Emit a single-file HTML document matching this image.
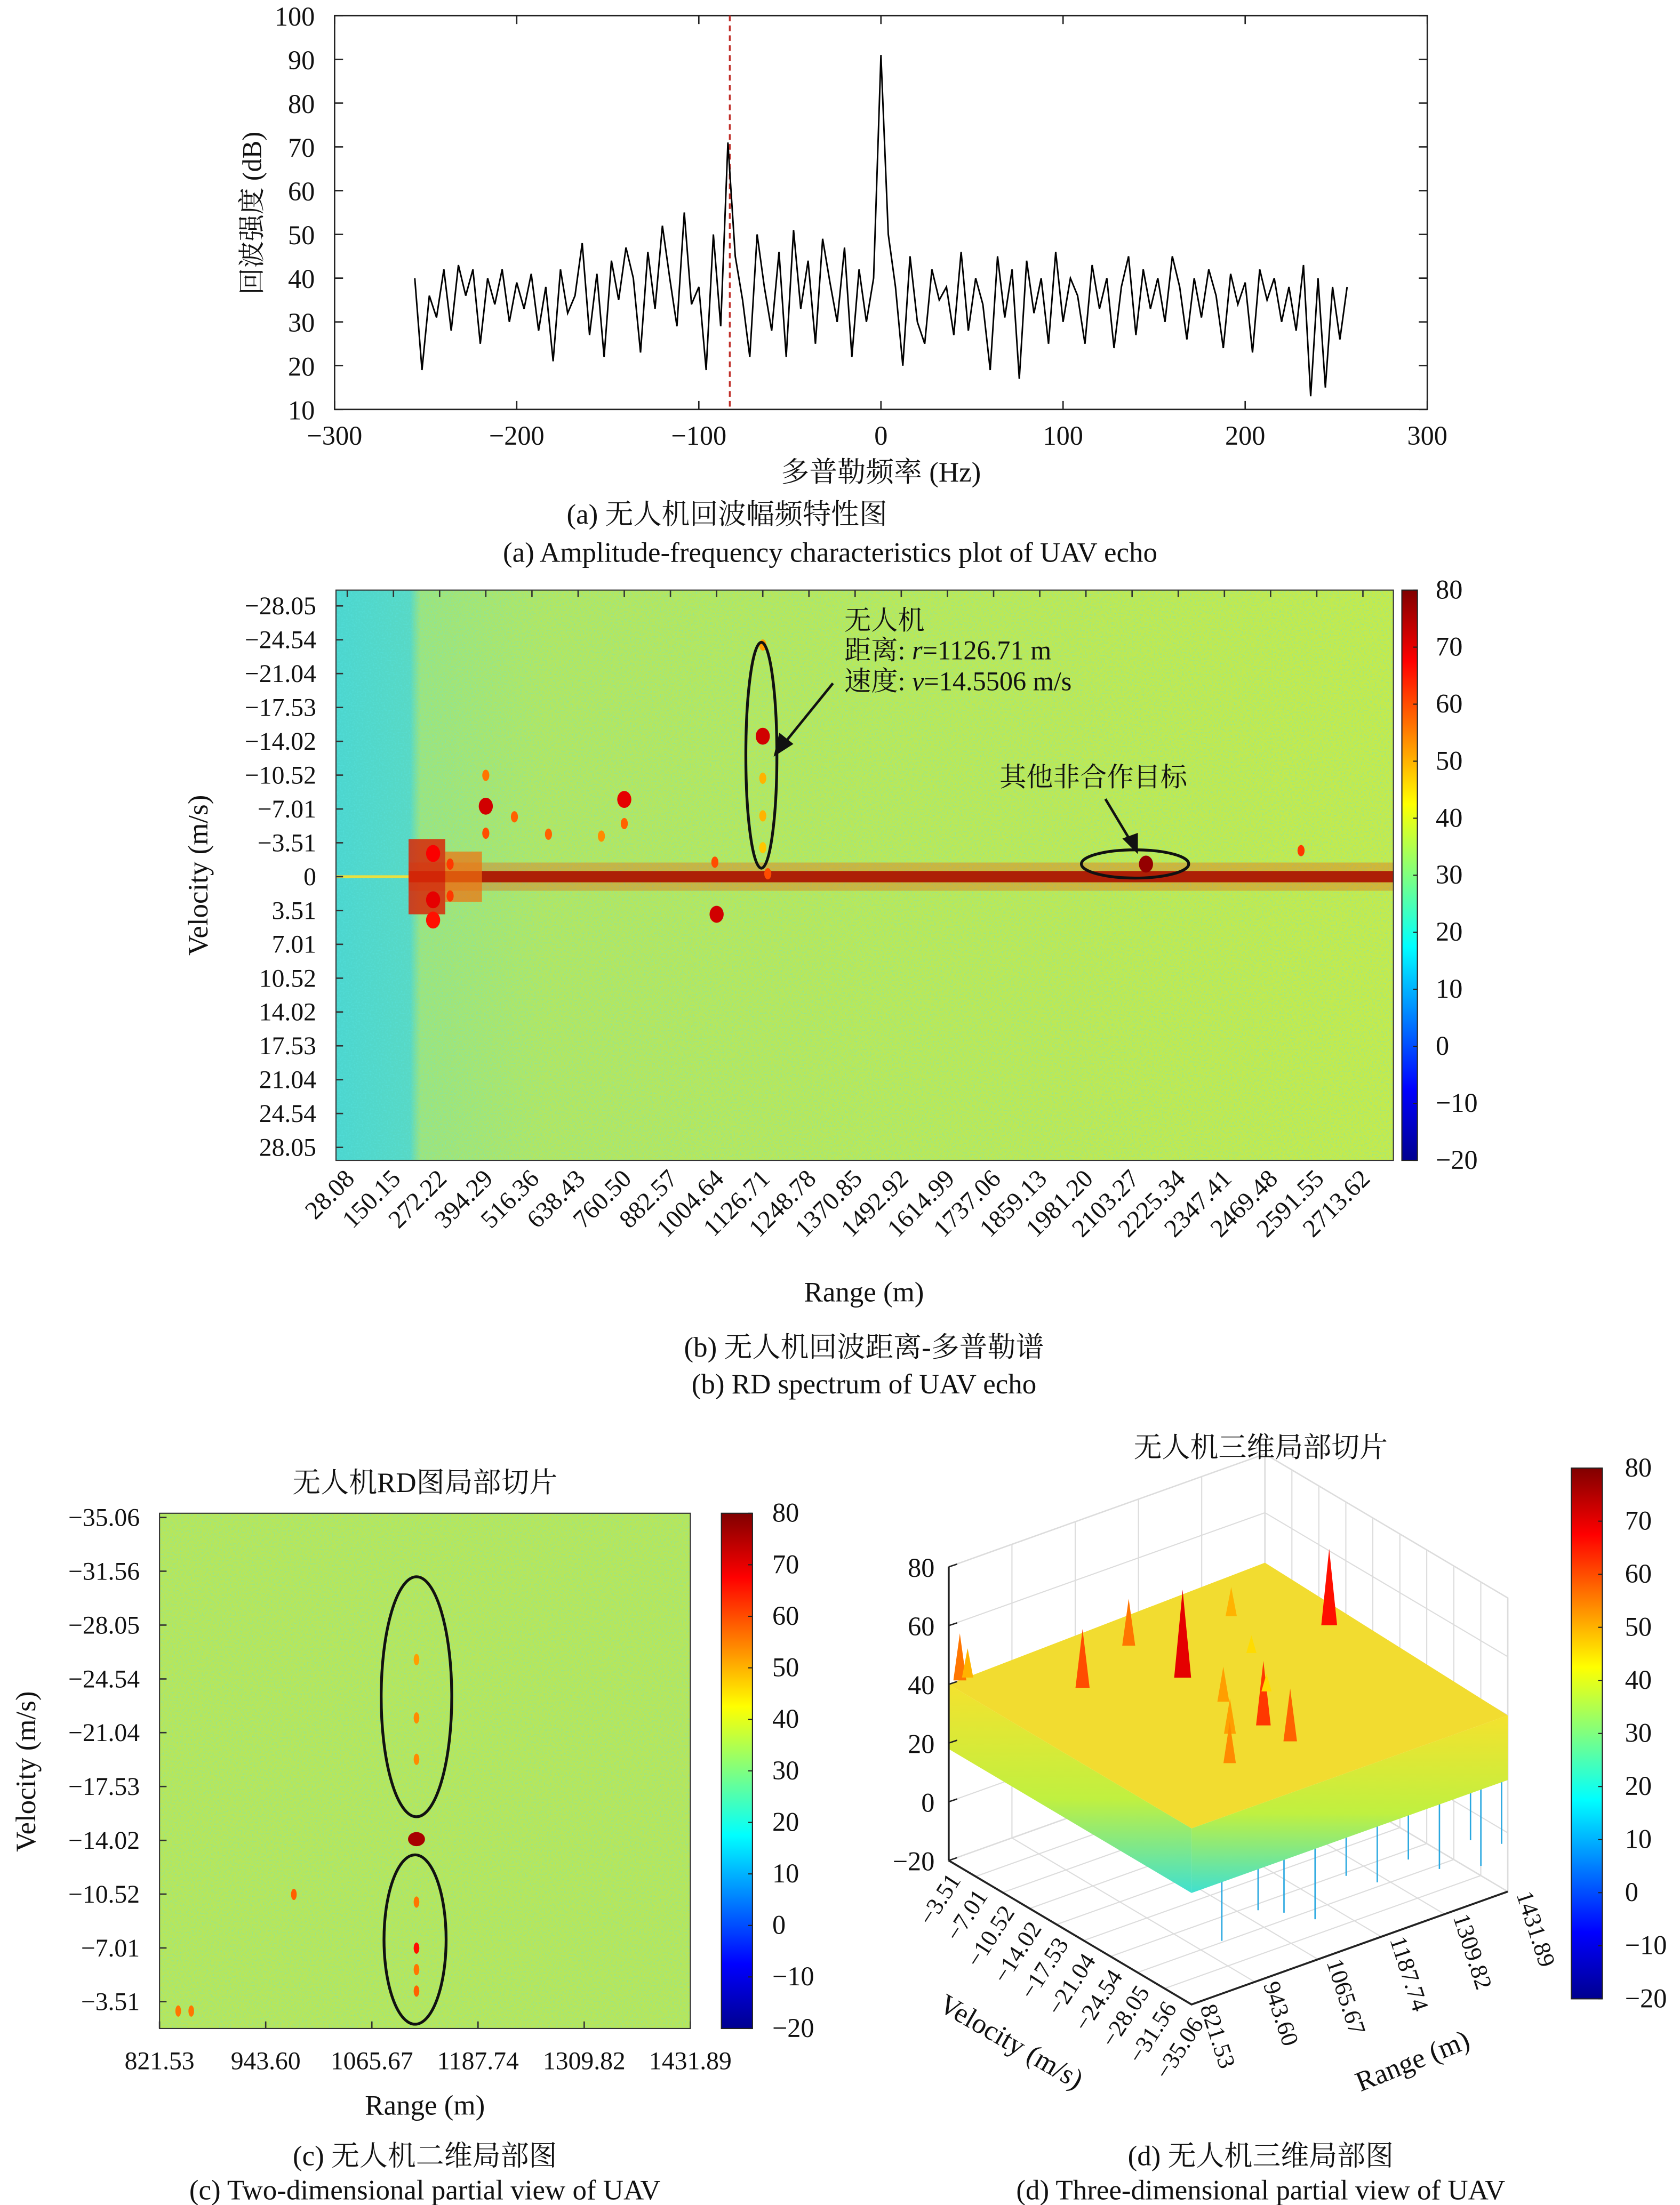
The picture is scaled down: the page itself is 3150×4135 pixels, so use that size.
<!DOCTYPE html>
<html><head><meta charset="utf-8">
<style>
html,body{margin:0;padding:0;background:#fff;}
svg{display:block;}
text{font-family:"Liberation Serif","Noto Serif CJK SC",serif;fill:#111;}
</style></head>
<body>
<svg id="fig" width="3150" height="4135" viewBox="0 0 1190 1562" xmlns="http://www.w3.org/2000/svg">
<defs>
<linearGradient id="jetV" x1="0" y1="1" x2="0" y2="0">
<stop offset="0" stop-color="#00008f"/><stop offset="0.125" stop-color="#0000ff"/><stop offset="0.375" stop-color="#00ffff"/><stop offset="0.625" stop-color="#ffff00"/><stop offset="0.875" stop-color="#ff0000"/><stop offset="1" stop-color="#800000"/>
</linearGradient>
<linearGradient id="rdBase" x1="0" y1="0" x2="1" y2="0">
<stop offset="0" stop-color="#4cd6cf"/><stop offset="0.07" stop-color="#58d8c4"/><stop offset="0.08" stop-color="#9ee47c"/><stop offset="0.2" stop-color="#b4e660"/><stop offset="1" stop-color="#c6ea4a"/>
</linearGradient>
<linearGradient id="skirt" x1="0" y1="0" x2="0" y2="1">
<stop offset="0" stop-color="#f4e22e"/><stop offset="0.55" stop-color="#c0f040"/><stop offset="1" stop-color="#40e0d0"/>
</linearGradient>
<filter id="noise" x="0" y="0" width="100%" height="100%">
<feTurbulence type="fractalNoise" baseFrequency="0.9" numOctaves="1" seed="3"/>
<feColorMatrix type="matrix" values="0 0 0 0 0.1  0 0 0 0 0.8  0 0 0 0 0.8  0 0 0 -2.2 1.2"/>
</filter>
</defs>
<g id="root"></g>
</svg>
<script>
// ---------- Panel (a) data ----------
const ampFreqs = [];
for (let i = 0; i <= 128; i++) ampFreqs.push(-256 + 4 * i);
const ampValues = [40,19,36,31,42,28,43,36,42,25,40,34,42,30,39,33,41,28,38,21,42,32,36,48,27,41,22,44,35,47,40,23,46,33,52,40,29,55,34,38,19,50,29,71,45,35,22,50,38,28,46,22,51,33,44,25,49,39,30,47,22,42,30,40,91,50,38,20,45,30,25,42,35,38,27,46,28,40,34,19,45,31,42,17,44,32,40,25,46,30,40,36,25,43,33,40,24,38,45,27,42,33,40,30,45,38,26,40,31,42,36,24,41,34,39,23,42,35,40,30,38,28,43,13,40,15,38,26,38];
const ampXTicks = [-300,-200,-100,0,100,200,300];
const ampYTicks = [10,20,30,40,50,60,70,80,90,100];
const markerFreq = -83;

// ---------- Panel (b) data ----------
const rdRangeTicks = ["28.08","150.15","272.22","394.29","516.36","638.43","760.50","882.57","1004.64","1126.71","1248.78","1370.85","1492.92","1614.99","1737.06","1859.13","1981.20","2103.27","2225.34","2347.41","2469.48","2591.55","2713.62"];
const rdVelTicks = ["-28.05","-24.54","-21.04","-17.53","-14.02","-10.52","-7.01","-3.51","0","3.51","7.01","10.52","14.02","17.53","21.04","24.54","28.05"];
const cbTicks = [80,70,60,50,40,30,20,10,0,-10,-20];
const rdTargetRange = [1126.71,1126.71,1126.71,1126.71,1126.71,394.29,394.29,394.29,760.50,760.50,1004.64,2140,2550,470,560,700,1000,255,255,255,300,300,1140];
const rdTargetVel   = [-14.55,-24.0,-10.2,-6.3,-3.0,-7.3,-10.5,-4.5,-8.0,-5.5,3.9,-1.3,-2.7,-6.2,-4.4,-4.2,-1.5,-2.4,2.4,4.5,-1.3,2.0,-0.3];
const rdTargetDb    = [72,52,50,50,48,72,56,60,70,58,72,78,62,58,58,54,60,68,70,66,62,62,60];

// ---------- Panel (c) data ----------
const cRangeTicks = ["821.53","943.60","1065.67","1187.74","1309.82","1431.89"];
const cVelTicks = ["-35.06","-31.56","-28.05","-24.54","-21.04","-17.53","-14.02","-10.52","-7.01","-3.51"];
const cTargetRange = [1117,1117,1117,1117,1117,1117,1117,1117,976,843,858];
const cTargetVel   = [-14.1,-7.0,-4.2,-10.0,-22.0,-19.3,-25.8,-5.6,-10.5,-2.9,-2.9];
const cTargetDb    = [76,66,58,56,54,54,52,56,58,56,56];

// ---------- Panel (d) data ----------
const dZTicks = [80,60,40,20,0,-20];
const dVelTicks = ["-3.51","-7.01","-10.52","-14.02","-17.53","-21.04","-24.54","-28.05","-31.56","-35.06"];
const dRangeTicks = ["821.53","943.60","1065.67","1187.74","1309.82","1431.89"];
const dPeakRange = [1117,1117,1117,1117,1117,976,843,858,1250,1060,1000,1190,1300,1400];
const dPeakVel   = [-14.02,-24.5,-7.0,-28.0,-19.3,-10.5,-3.51,-3.51,-14.0,-24.0,-28.0,-20.0,-8.0,-14.0];
const dPeakZ     = [70,62,56,58,52,60,56,50,46,52,54,46,50,66];
const dDipRange  = [880,950,1000,1060,1120,1180,1240,1300,1360,1420,1380];
const dDipVel    = [-35.06,-35.06,-35.06,-35.06,-35.06,-35.06,-35.06,-35.06,-35.06,-35.06,-35.06];
const dDipZ      = [-2,4,0,-6,5,-1,3,-4,2,-3,-8];

// ---------- helpers ----------
const NS = "http://www.w3.org/2000/svg";
const root = document.getElementById("root");
function mk(tag, attrs, parent) {
  const e = document.createElementNS(NS, tag);
  for (const k in attrs) e.setAttribute(k, attrs[k]);
  (parent || root).appendChild(e);
  return e;
}
function txt(str, attrs, parent) { const t = mk("text", attrs, parent); t.textContent = str; return t; }
function minus(s) { return String(s).replace("-", "\u2212"); }
function jet(v) {
  let t = (v + 20) / 100; t = Math.max(0, Math.min(1, t));
  const f = (x) => Math.max(0, Math.min(1, 1.5 - Math.abs(4 * t - x)));
  return "rgb(" + Math.round(255 * f(3)) + "," + Math.round(255 * f(2)) + "," + Math.round(255 * f(1)) + ")";
}
function colorbar(x, y, w, h, lx, name) {
  const g = mk("g", {});
  
  
  mk("rect", {x: x, y: y, width: w, height: h, fill: "url(#jetV)", stroke: "#222", "stroke-width": 0.8}, g);
  cbTicks.forEach((v) => {
    const yy = y + (80 - v) / 100 * h;
    mk("line", {x1: x + w - 3, x2: x + w, y1: yy, y2: yy, stroke: "#222", "stroke-width": 0.8}, g);
    const t = txt(minus(v), {x: lx, y: yy + 6, "font-size": 19}, g);
    
    
  });
}

// ================= Panel (a) =================
(function () {
  const L = 237, R = 1011, T = 11, B = 290;
  const xs = (f) => L + (f + 300) / 600 * (R - L);
  const ys = (v) => B - (v - 10) / 90 * (B - T);
  const g = mk("g", {});
  
  
  mk("rect", {x: L, y: T, width: R - L, height: B - T, fill: "none", stroke: "#222", "stroke-width": 1}, g);
  ampXTicks.forEach((v) => {
    mk("line", {x1: xs(v), x2: xs(v), y1: B, y2: B - 6, stroke: "#222"}, g);
    mk("line", {x1: xs(v), x2: xs(v), y1: T, y2: T + 6, stroke: "#222"}, g);
    const t = txt(minus(v), {x: xs(v), y: B + 25, "font-size": 19, "text-anchor": "middle"}, g);
    
    
  });
  ampYTicks.forEach((v) => {
    mk("line", {x1: L, x2: L + 6, y1: ys(v), y2: ys(v), stroke: "#222"}, g);
    mk("line", {x1: R, x2: R - 6, y1: ys(v), y2: ys(v), stroke: "#222"}, g);
    const t = txt(v, {x: L - 14, y: ys(v) + 7, "font-size": 19, "text-anchor": "end"}, g);
    
    
  });
  const mline = mk("line", {x1: xs(markerFreq), x2: xs(markerFreq), y1: T, y2: B, stroke: "#c0302a", "stroke-width": 1.3, "stroke-dasharray": "4 3"}, g);
  
  
  const pts = ampFreqs.map((f, i) => xs(f).toFixed(1) + "," + ys(ampValues[i]).toFixed(1)).join(" ");
  const pl = mk("polyline", {points: pts, fill: "none", stroke: "#000", "stroke-width": 1.1}, g);
  
  
  const yl = txt("回波强度 (dB)", {x: 0, y: 0, "font-size": 19, "text-anchor": "middle", transform: "translate(185,151) rotate(-90)"}, g);
  
  
  const xl = txt("多普勒频率 (Hz)", {x: 624, y: 341, "font-size": 20, "text-anchor": "middle"}, g);
  
  
  const c1 = txt("(a) 无人机回波幅频特性图", {x: 515, y: 371, "font-size": 20, "text-anchor": "middle"}, g);
  
  
  const c2 = txt("(a) Amplitude-frequency characteristics plot of UAV echo", {x: 588, y: 398, "font-size": 20, "text-anchor": "middle"}, g);
  
  
})();

// ================= Panel (b) =================
(function () {
  const L = 238, R = 987, T = 418, B = 822;
  const xs = (r) => 246 + (r - 28.08) / 122.07 * 32.7;
  const ys = (v) => 621 + v / 3.51 * 24;
  const g = mk("g", {});
  
  
  mk("rect", {x: L, y: T, width: R - L, height: B - T, fill: "url(#rdBase)"}, g);
  mk("rect", {x: L, y: T, width: R - L, height: B - T, filter: "url(#noise)", opacity: 0.5}, g);
  const band = mk("rect", {x: xs(272.22) - 22, y: ys(0) - 4, width: R - xs(272.22) + 22, height: 8, fill: "#8e0000"}, g);
  
  
  mk("rect", {x: xs(272.22) - 22, y: ys(0) - 10, width: R - xs(272.22) + 22, height: 20, fill: "#e85a10", opacity: 0.35}, g);
  mk("line", {x1: L, x2: xs(272.22) - 22, y1: ys(0), y2: ys(0), stroke: "#e8e040", "stroke-width": 2}, g);
  const blk = mk("rect", {x: xs(272.22) - 22, y: ys(-3.9), width: 26, height: ys(3.9) - ys(-3.9), fill: "#d82808", opacity: 0.85}, g);
  
  
  mk("rect", {x: xs(272.22) + 4, y: ys(-2.6), width: 26, height: ys(2.6) - ys(-2.6), fill: "#f07010", opacity: 0.7}, g);
  rdTargetRange.forEach((r, i) => {
    const e = mk("ellipse", {cx: xs(r), cy: ys(rdTargetVel[i]), rx: rdTargetDb[i] > 65 ? 5 : 2.5, ry: rdTargetDb[i] > 65 ? 6 : 4, fill: jet(rdTargetDb[i])}, g);
    
    
  });
  mk("rect", {x: L, y: T, width: R - L, height: B - T, fill: "none", stroke: "#333", "stroke-width": 0.8}, g);
  rdVelTicks.forEach((v) => {
    const yy = ys(parseFloat(v));
    mk("line", {x1: L, x2: L + 5, y1: yy, y2: yy, stroke: "#333"}, g);
    const t = txt(minus(v), {x: 224, y: yy + 6, "font-size": 18, "text-anchor": "end"}, g);
    
    
  });
  rdRangeTicks.forEach((v) => {
    const xx = xs(parseFloat(v));
    mk("line", {x1: xx, x2: xx, y1: T, y2: T + 5, stroke: "#333"}, g);
    const t = txt(v, {x: 0, y: 0, "font-size": 18, "text-anchor": "end", transform: "translate(" + (xx + 6) + "," + (B + 14) + ") rotate(-45)"}, g);
    
    
  });
  const e1 = mk("ellipse", {cx: xs(1126.71) - 1, cy: 535, rx: 11, ry: 80, fill: "none", stroke: "#111", "stroke-width": 2}, g);
  
  
  mk("line", {x1: 590, y1: 484, x2: 556, y2: 526, stroke: "#111", "stroke-width": 1.8}, g);
  mk("polygon", {points: "548,536 552,519 562,527", fill: "#111"}, g);
  const a1 = txt("无人机", {x: 598, y: 446, "font-size": 19}, g);
  
  
  const a1b = txt("", {x: 598, y: 467, "font-size": 19}, g);
  a1b.innerHTML = '距离: <tspan font-style="italic">r</tspan>=1126.71 m';
  const a1c = txt("", {x: 598, y: 489, "font-size": 19}, g);
  a1c.innerHTML = '速度: <tspan font-style="italic">v</tspan>=14.5506 m/s';
  const e2 = mk("ellipse", {cx: 804, cy: 612, rx: 38, ry: 10, fill: "none", stroke: "#111", "stroke-width": 2}, g);
  
  
  mk("line", {x1: 783, y1: 566, x2: 801, y2: 596, stroke: "#111", "stroke-width": 1.8}, g);
  mk("polygon", {points: "806,605 795,594 806,590", fill: "#111"}, g);
  const a2 = txt("其他非合作目标", {x: 708, y: 557, "font-size": 19}, g);
  
  
  const yl = txt("Velocity (m/s)", {x: 0, y: 0, "font-size": 20, "text-anchor": "middle", transform: "translate(147,620) rotate(-90)"}, g);
  
  
  const xl = txt("Range (m)", {x: 612, y: 922, "font-size": 20, "text-anchor": "middle"}, g);
  
  
  const c1 = txt("(b) 无人机回波距离-多普勒谱", {x: 612, y: 961, "font-size": 20, "text-anchor": "middle"}, g);
  
  
  const c2 = txt("(b) RD spectrum of UAV echo", {x: 612, y: 987, "font-size": 20, "text-anchor": "middle"}, g);
  
  
})();
colorbar(993, 418, 11, 404, 1017, "colorbar-b");

// ================= Panel (c) =================
(function () {
  const L = 113, R = 489, T = 1072, B = 1437;
  const xs = (r) => L + (r - 821.53) / 610.36 * (R - L);
  const ys = (v) => 1075 + (v + 35.06) / 31.55 * 343;
  const g = mk("g", {});
  
  
  mk("rect", {x: L, y: T, width: R - L, height: B - T, fill: "#b8e65a"}, g);
  mk("rect", {x: L, y: T, width: R - L, height: B - T, filter: "url(#noise)", opacity: 0.45}, g);
  cTargetRange.forEach((r, i) => {
    const big = cTargetDb[i] > 70;
    const e = mk("ellipse", {cx: xs(r), cy: ys(cTargetVel[i]), rx: big ? 6 : 2, ry: big ? 5 : 4, fill: jet(cTargetDb[i])}, g);
    
    
  });
  mk("rect", {x: L, y: T, width: R - L, height: B - T, fill: "none", stroke: "#333", "stroke-width": 0.8}, g);
  cVelTicks.forEach((v) => {
    const yy = ys(parseFloat(v));
    mk("line", {x1: L, x2: L + 5, y1: yy, y2: yy, stroke: "#333"}, g);
    const t = txt(minus(v), {x: 99, y: yy + 6, "font-size": 18, "text-anchor": "end"}, g);
    
    
  });
  cRangeTicks.forEach((v) => {
    const xx = xs(parseFloat(v));
    mk("line", {x1: xx, x2: xx, y1: B, y2: B - 5, stroke: "#333"}, g);
    const t = txt(v, {x: xx, y: 1466, "font-size": 18, "text-anchor": "middle"}, g);
    
    
  });
  const e1 = mk("ellipse", {cx: 295, cy: 1202, rx: 25, ry: 85, fill: "none", stroke: "#111", "stroke-width": 2}, g);
  
  
  const e2 = mk("ellipse", {cx: 294, cy: 1374, rx: 22, ry: 60, fill: "none", stroke: "#111", "stroke-width": 2}, g);
  
  
  const tt = txt("无人机RD图局部切片", {x: 301, y: 1057, "font-size": 20, "text-anchor": "middle"}, g);
  
  
  const yl = txt("Velocity (m/s)", {x: 0, y: 0, "font-size": 20, "text-anchor": "middle", transform: "translate(25,1255) rotate(-90)"}, g);
  
  
  const xl = txt("Range (m)", {x: 301, y: 1498, "font-size": 20, "text-anchor": "middle"}, g);
  
  
  const c1 = txt("(c) 无人机二维局部图", {x: 301, y: 1534, "font-size": 20, "text-anchor": "middle"}, g);
  
  
  const c2 = txt("(c) Two-dimensional partial view of UAV", {x: 301, y: 1558, "font-size": 20, "text-anchor": "middle"}, g);
  
  
})();
colorbar(511, 1072, 22, 365, 547, "colorbar-c");

// ================= Panel (d) =================
(function () {
  const F = [844, 1420], Rc = [1068, 1340], Lc = [672, 1318];
  const zs = 2.08;
  function P(r, v, z) {
    const u = (r - 821.53) / 610.36, w = (v + 35.06) / 31.55;
    const x = F[0] + u * (Rc[0] - F[0]) + w * (Lc[0] - F[0]);
    const y = F[1] + u * (Rc[1] - F[1]) + w * (Lc[1] - F[1]) - (z + 20) * zs;
    return [x, y];
  }
  const p = (a) => a[0].toFixed(1) + "," + a[1].toFixed(1);
  const g = mk("g", {});
  
  
  const gs = {stroke: "#dcdcdc", "stroke-width": 0.8, fill: "none"};
  const Bk = P(1431.89, -3.51, -20);
  mk("polygon", {points: [p(P(821.53, -3.51, 80)), p(P(1431.89, -3.51, 80)), p(Bk), p(Lc)].join(" "), fill: "#fff", stroke: "#dcdcdc"}, g);
  mk("polygon", {points: [p(P(1431.89, -3.51, 80)), p(P(1431.89, -35.06, 80)), p(Rc), p(Bk)].join(" "), fill: "#fff", stroke: "#dcdcdc"}, g);
  dZTicks.forEach((z) => {
    mk("polyline", Object.assign({points: [p(P(821.53, -3.51, z)), p(P(1431.89, -3.51, z)), p(P(1431.89, -35.06, z))].join(" ")}, gs), g);
  });
  dRangeTicks.forEach((s) => {
    const r = parseFloat(s);
    mk("polyline", Object.assign({points: [p(P(r, -35.06, -20)), p(P(r, -3.51, -20)), p(P(r, -3.51, 80))].join(" ")}, gs), g);
  });
  dVelTicks.forEach((s) => {
    const v = parseFloat(s);
    mk("polyline", Object.assign({points: [p(P(821.53, v, -20)), p(P(1431.89, v, -20)), p(P(1431.89, v, 80))].join(" ")}, gs), g);
  });
  const zTop = 40, zLow = 18;
  dDipRange.forEach((r, i) => {
    const a = P(r, dDipVel[i], zLow + 2), b = P(r, dDipVel[i], dDipZ[i]);
    const l = mk("line", {x1: a[0], y1: a[1], x2: b[0], y2: b[1], stroke: "#2aa8e0", "stroke-width": 1}, g);
    
    
  });
  mk("polygon", {points: [p(P(821.53, -3.51, zTop)), p(P(821.53, -35.06, zTop)), p(P(821.53, -35.06, zLow)), p(P(821.53, -3.51, zLow))].join(" "), fill: "url(#skirt)"}, g);
  mk("polygon", {points: [p(P(821.53, -35.06, zTop)), p(P(1431.89, -35.06, zTop)), p(P(1431.89, -35.06, zLow)), p(P(821.53, -35.06, zLow))].join(" "), fill: "url(#skirt)"}, g);
  const top = mk("polygon", {points: [p(P(821.53, -3.51, zTop)), p(P(1431.89, -3.51, zTop + 3)), p(P(1431.89, -35.06, zTop)), p(P(821.53, -35.06, zTop))].join(" "), fill: "#f2dc30"}, g);
  
  
  dPeakRange.forEach((r, i) => {
    const base = P(r, dPeakVel[i], zTop), tip = P(r, dPeakVel[i], dPeakZ[i]);
    const w = 3 + (dPeakZ[i] - zTop) * 0.1;
    const pk = mk("polygon", {points: [(base[0] - w).toFixed(1) + "," + base[1].toFixed(1), p(tip), (base[0] + w).toFixed(1) + "," + base[1].toFixed(1)].join(" "), fill: jet(dPeakZ[i])}, g);
    
    
  });
  const ax = {stroke: "#222", "stroke-width": 1.4, fill: "none"};
  mk("line", Object.assign({x1: Lc[0], y1: P(821.53, -3.51, 80)[1], x2: Lc[0], y2: Lc[1]}, ax), g);
  mk("polyline", Object.assign({points: [p(Lc), p(F), p(Rc)].join(" ")}, ax), g);
  dZTicks.forEach((z) => {
    const q = P(821.53, -3.51, z);
    mk("line", {x1: q[0], x2: q[0] + 6, y1: q[1], y2: q[1] - 2, stroke: "#222"}, g);
    const t = txt(minus(z), {x: q[0] - 10, y: q[1] + 7, "font-size": 19, "text-anchor": "end"}, g);
    
    
  });
  dVelTicks.forEach((s) => {
    const q = P(821.53, parseFloat(s), -20);
    const t = txt(minus(s), {x: 0, y: 0, "font-size": 17, "text-anchor": "end", transform: "translate(" + (q[0] + 9) + "," + (q[1] + 14) + ") rotate(-57)"}, g);
    
    
  });
  dRangeTicks.forEach((s) => {
    const q = P(parseFloat(s), -35.06, -20);
    const t = txt(s, {x: 0, y: 0, "font-size": 17, "text-anchor": "start", transform: "translate(" + (q[0] + 6) + "," + (q[1] + 2) + ") rotate(72)"}, g);
    
    
  });
  const tt = txt("无人机三维局部切片", {x: 893, y: 1032, "font-size": 20, "text-anchor": "middle"}, g);
  
  
  const vl = txt("Velocity (m/s)", {x: 0, y: 0, "font-size": 20, "text-anchor": "middle", transform: "translate(713,1452) rotate(30)"}, g);
  
  
  const rl = txt("Range (m)", {x: 0, y: 0, "font-size": 20, "text-anchor": "middle", transform: "translate(1003,1466) rotate(-22)"}, g);
  
  
  const c1 = txt("(d) 无人机三维局部图", {x: 893, y: 1534, "font-size": 20, "text-anchor": "middle"}, g);
  
  
  const c2 = txt("(d) Three-dimensional partial view of UAV", {x: 893, y: 1558, "font-size": 20, "text-anchor": "middle"}, g);
  
  
})();
colorbar(1113, 1040, 22, 376, 1151, "colorbar-d");
</script>
</body></html>
